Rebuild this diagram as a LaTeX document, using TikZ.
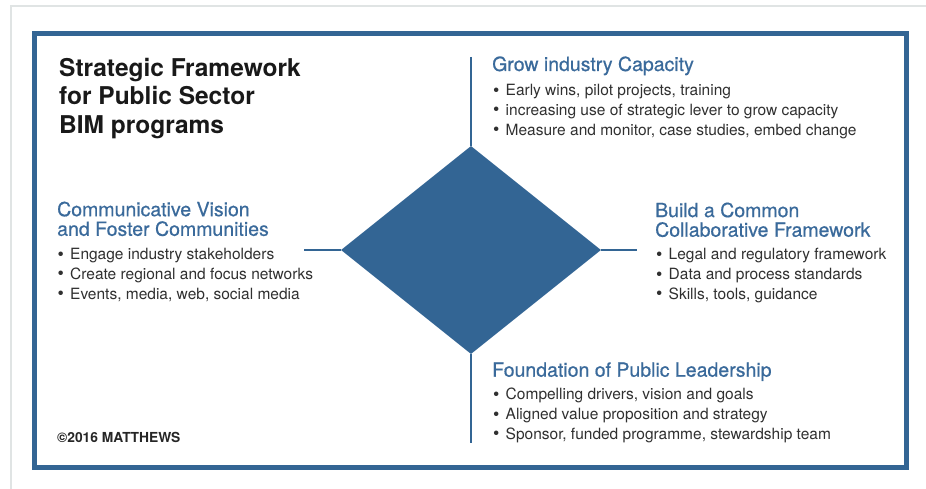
\documentclass[tikz,border=0pt]{standalone}
\usepackage{fontspec}
\setmainfont{TeX Gyre Heros}
\newfontfamily\headfont[FakeBold=0.6]{TeX Gyre Heros}
\usetikzlibrary{shapes.geometric}
\definecolor{fwblue}{RGB}{51,101,148}
\definecolor{headblue}{RGB}{58,106,155}
\definecolor{txtgray}{RGB}{48,48,48}
\definecolor{framegray}{RGB}{224,228,228}
\newcommand{\bul}{\makebox[12.5pt][l]{\raisebox{-0.4pt}{\fontsize{18}{18}\selectfont\textbullet}}}
\begin{document}
\begin{tikzpicture}[x=1pt,y=-1pt,
  conn/.style={draw=fwblue, line width=2pt},
  titletext/.style={anchor=base west, inner sep=0pt, align=left, text=black!90, font=\bfseries\fontsize{24.5}{28.6}\selectfont},
  headtext/.style={anchor=base west, inner sep=0pt, align=left, text=headblue, font=\headfont\fontsize{19.5}{19.6}\selectfont},
  bullettext/.style={anchor=base west, inner sep=0pt, align=left, text=txtgray, font=\fontsize{15.5}{19.8}\selectfont},
  copytext/.style={anchor=base west, inner sep=0pt, text=black!85, font=\bfseries\fontsize{13.8}{16}\selectfont}]
\useasboundingbox (0,0) rectangle (926,489);
\fill[white] (0,0) rectangle (926,489);
% outer light frame
\draw[framegray, line width=2.5pt] (11,489) -- (11,6) -- (926,6);
% blue frame
\draw[fwblue, line width=5pt] (34.5,33.5) rectangle (906.5,467);
% diamond
\node[diamond, fill=fwblue, minimum width=260pt, minimum height=208pt, inner sep=0pt] (dia) at (471,250) {};
\coordinate (vt) at (471,57);
\coordinate (vb) at (471,443);
\coordinate (hl) at (304,250);
\coordinate (hr) at (637,250);
\draw[conn] (vt) -- (dia.north);
\draw[conn] (dia.south) -- (vb);
\draw[conn] (hl) -- (dia.west);
\draw[conn] (dia.east) -- (hr);
% title (anchor = baseline of last line)
\node[titletext] (title) at (59,133.3) {Strategic Framework\\for Public Sector\\BIM programs};
% top
\node[headtext] (growh) at (492,71) {Grow industry Capacity};
\node[bullettext] (growb) at (493,135.3) {\bul Early wins, pilot projects, training\\\bul increasing use of strategic lever to grow capacity\\\bul Measure and monitor, case studies, embed change};
% right
\node[headtext] (buildh) at (655,236.7) {Build a Common\\Collaborative Framework};
\node[bullettext] (buildb) at (656,299.5) {\bul Legal and regulatory framework\\\bul Data and process standards\\\bul Skills, tools, guidance};
% left
\node[headtext] (commh) at (57,235.8) {Communicative Vision\\and Foster Communities};
\node[bullettext] (commb) at (57.5,299.3) {\bul Engage industry stakeholders\\\bul Create regional and focus networks\\\bul Events, media, web, social media};
% bottom
\node[headtext] (foundh) at (492,376.7) {Foundation of Public Leadership};
\node[bullettext] (foundb) at (493,439.5) {\bul Compelling drivers, vision and goals\\\bul Aligned value proposition and strategy\\\bul Sponsor, funded programme, stewardship team};
% copyright
\node[copytext] (copy) at (57,442) {©2016 MATTHEWS};
\end{tikzpicture}
\end{document}
